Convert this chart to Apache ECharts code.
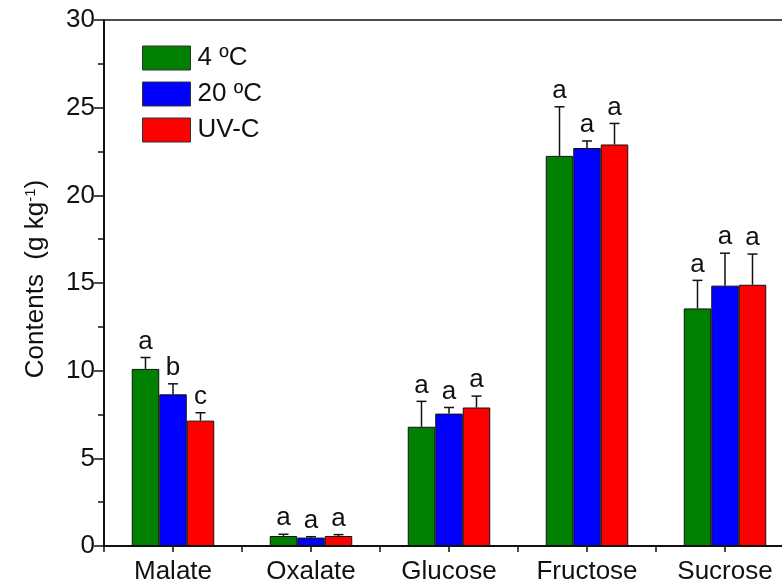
<!DOCTYPE html>
<html>
<head>
<meta charset="utf-8">
<title>Contents</title>
<script src="https://cdn.jsdelivr.net/npm/echarts@6/dist/echarts.min.js"></script>
<style>
  html, body { margin: 0; padding: 0; background: #ffffff; overflow: hidden; }
  /* the plot frame runs past the right edge of the window */
  #chart { width: 810px; height: 588px; }
</style>
</head>
<body>
<div id="chart"></div>
<script>
// Organic acid and sugar contents (g kg-1), mean and SD per storage treatment
const categories = ['Malate', 'Oxalate', 'Glucose', 'Fructose', 'Sucrose'];
const treatments = ['4 ºC', '20 ºC', 'UV-C'];

const mean4C  = [10.1, 0.57, 6.8, 22.25, 13.55];
const mean20C = [8.65, 0.48, 7.55, 22.7, 14.85];
const meanUVC = [7.15, 0.57, 7.9, 22.9, 14.9];

const sd4C  = [0.65, 0.1, 1.45, 2.8, 1.6];
const sd20C = [0.6, 0.05, 0.35, 0.4, 1.85];
const sdUVC = [0.45, 0.08, 0.65, 1.2, 1.75];

const letters4C  = ['a', 'a', 'a', 'a', 'a'];
const letters20C = ['b', 'a', 'a', 'a', 'a'];
const lettersUVC = ['c', 'a', 'a', 'a', 'a'];

const yTicks = [0, 5, 10, 15, 20, 25, 30];

const colors = ['#008000', '#0000ff', '#ff0000'];
const FONT = '"Liberation Sans", Arial, sans-serif';
const FS = 26;
const BAR_W = 27.5;

const means = [mean4C, mean20C, meanUVC];
const sds = [sd4C, sd20C, sdUVC];
const letters = [letters4C, letters20C, lettersUVC];

const chart = echarts.init(document.getElementById('chart'), null, { renderer: 'canvas' });

function barSeries(i) {
  return {
    name: treatments[i],
    type: 'bar',
    xAxisIndex: 0,
    barWidth: BAR_W,
    barGap: '0%',
    data: means[i],
    itemStyle: { color: colors[i], borderColor: '#111', borderWidth: 1 },
    emphasis: { disabled: true },
    z: 2
  };
}

// Upper error whisker with significance letter, shifted to sit on its bar
function errorSeries(i) {
  const offset = (i - 1) * BAR_W;
  return {
    name: treatments[i] + ' err',
    type: 'custom',
    xAxisIndex: 0,
    z: 5,
    silent: true,
    data: categories.map((c, k) => [k, means[i][k], sds[i][k], letters[i][k]]),
    renderItem: function (params, api) {
      const k = api.value(0);
      const m = api.value(1);
      const e = api.value(2);
      const base = api.coord([k, m]);
      const top = api.coord([k, m + e]);
      const x = base[0] + offset;
      const capHalf = 5;
      return {
        type: 'group',
        children: [
          { type: 'line', shape: { x1: x, y1: base[1], x2: x, y2: top[1] },
            style: { stroke: '#111', lineWidth: 1.5 } },
          { type: 'line', shape: { x1: x - capHalf, y1: top[1], x2: x + capHalf, y2: top[1] },
            style: { stroke: '#111', lineWidth: 1.5 } },
          { type: 'text', x: x, y: top[1] - 3,
            style: { text: letters[i][k], fill: '#111', font: FS + 'px ' + FONT,
                     align: 'center', verticalAlign: 'bottom' } }
        ]
      };
    }
  };
}

const option = {
  backgroundColor: '#ffffff',
  animation: false,
  textStyle: { fontFamily: FONT },
  grid: {
    left: 104, top: 20, bottom: 42, width: 690,
    show: true, borderColor: '#111', borderWidth: 1.5, backgroundColor: 'transparent'
  },
  legend: {
    data: treatments,
    orient: 'vertical',
    left: 142, top: 45,
    padding: 0,
    itemWidth: 48, itemHeight: 24, itemGap: 10,
    icon: 'rect',
    selectedMode: false,
    textStyle: { fontSize: FS, color: '#111', fontFamily: FONT, padding: [0, 0, 0, 2] },
    itemStyle: { borderColor: '#333', borderWidth: 1 }
  },
  xAxis: [
    {
      type: 'category',
      data: categories,
      position: 'bottom',
      axisLine: { lineStyle: { color: '#111', width: 2 } },
      axisTick: { show: true, inside: false, length: 6, alignWithLabel: false,
                  lineStyle: { color: '#111', width: 1.5 } },
      axisLabel: { fontSize: FS, color: '#111', margin: 13, fontFamily: FONT },
      splitLine: { show: false }
    },
    {
      type: 'category',
      data: categories,
      position: 'bottom',
      axisLine: { show: false },
      axisTick: { show: true, length: 6, alignWithLabel: true,
                  lineStyle: { color: '#111', width: 1.5 } },
      axisLabel: { show: false },
      splitLine: { show: false }
    }
  ],
  yAxis: {
    type: 'value',
    min: yTicks[0],
    max: yTicks[yTicks.length - 1],
    interval: 5,
    axisLine: { show: true, lineStyle: { color: '#111', width: 2 } },
    axisTick: { show: true, inside: false, length: 10, lineStyle: { color: '#111', width: 1.5 } },
    minorTick: { show: true, splitNumber: 2, length: 6, lineStyle: { color: '#111', width: 1.5 } },
    axisLabel: { fontSize: FS, color: '#111', margin: 9, fontFamily: FONT },
    splitLine: { show: false }
  },
  graphic: [
    {
      type: 'text',
      x: 36, y: 279,
      rotation: Math.PI / 2,
      style: {
        text: 'Contents  (g kg{sup|-1})',
        font: FS + 'px ' + FONT,
        fill: '#111',
        align: 'center',
        verticalAlign: 'middle',
        rich: {
          sup: { fontSize: 15, fontFamily: FONT, fill: '#111', verticalAlign: 'top', lineHeight: 16 }
        }
      }
    }
  ],
  series: [
    barSeries(0), barSeries(1), barSeries(2),
    errorSeries(0), errorSeries(1), errorSeries(2)
  ]
};

chart.setOption(option);
</script>
</body>
</html>
